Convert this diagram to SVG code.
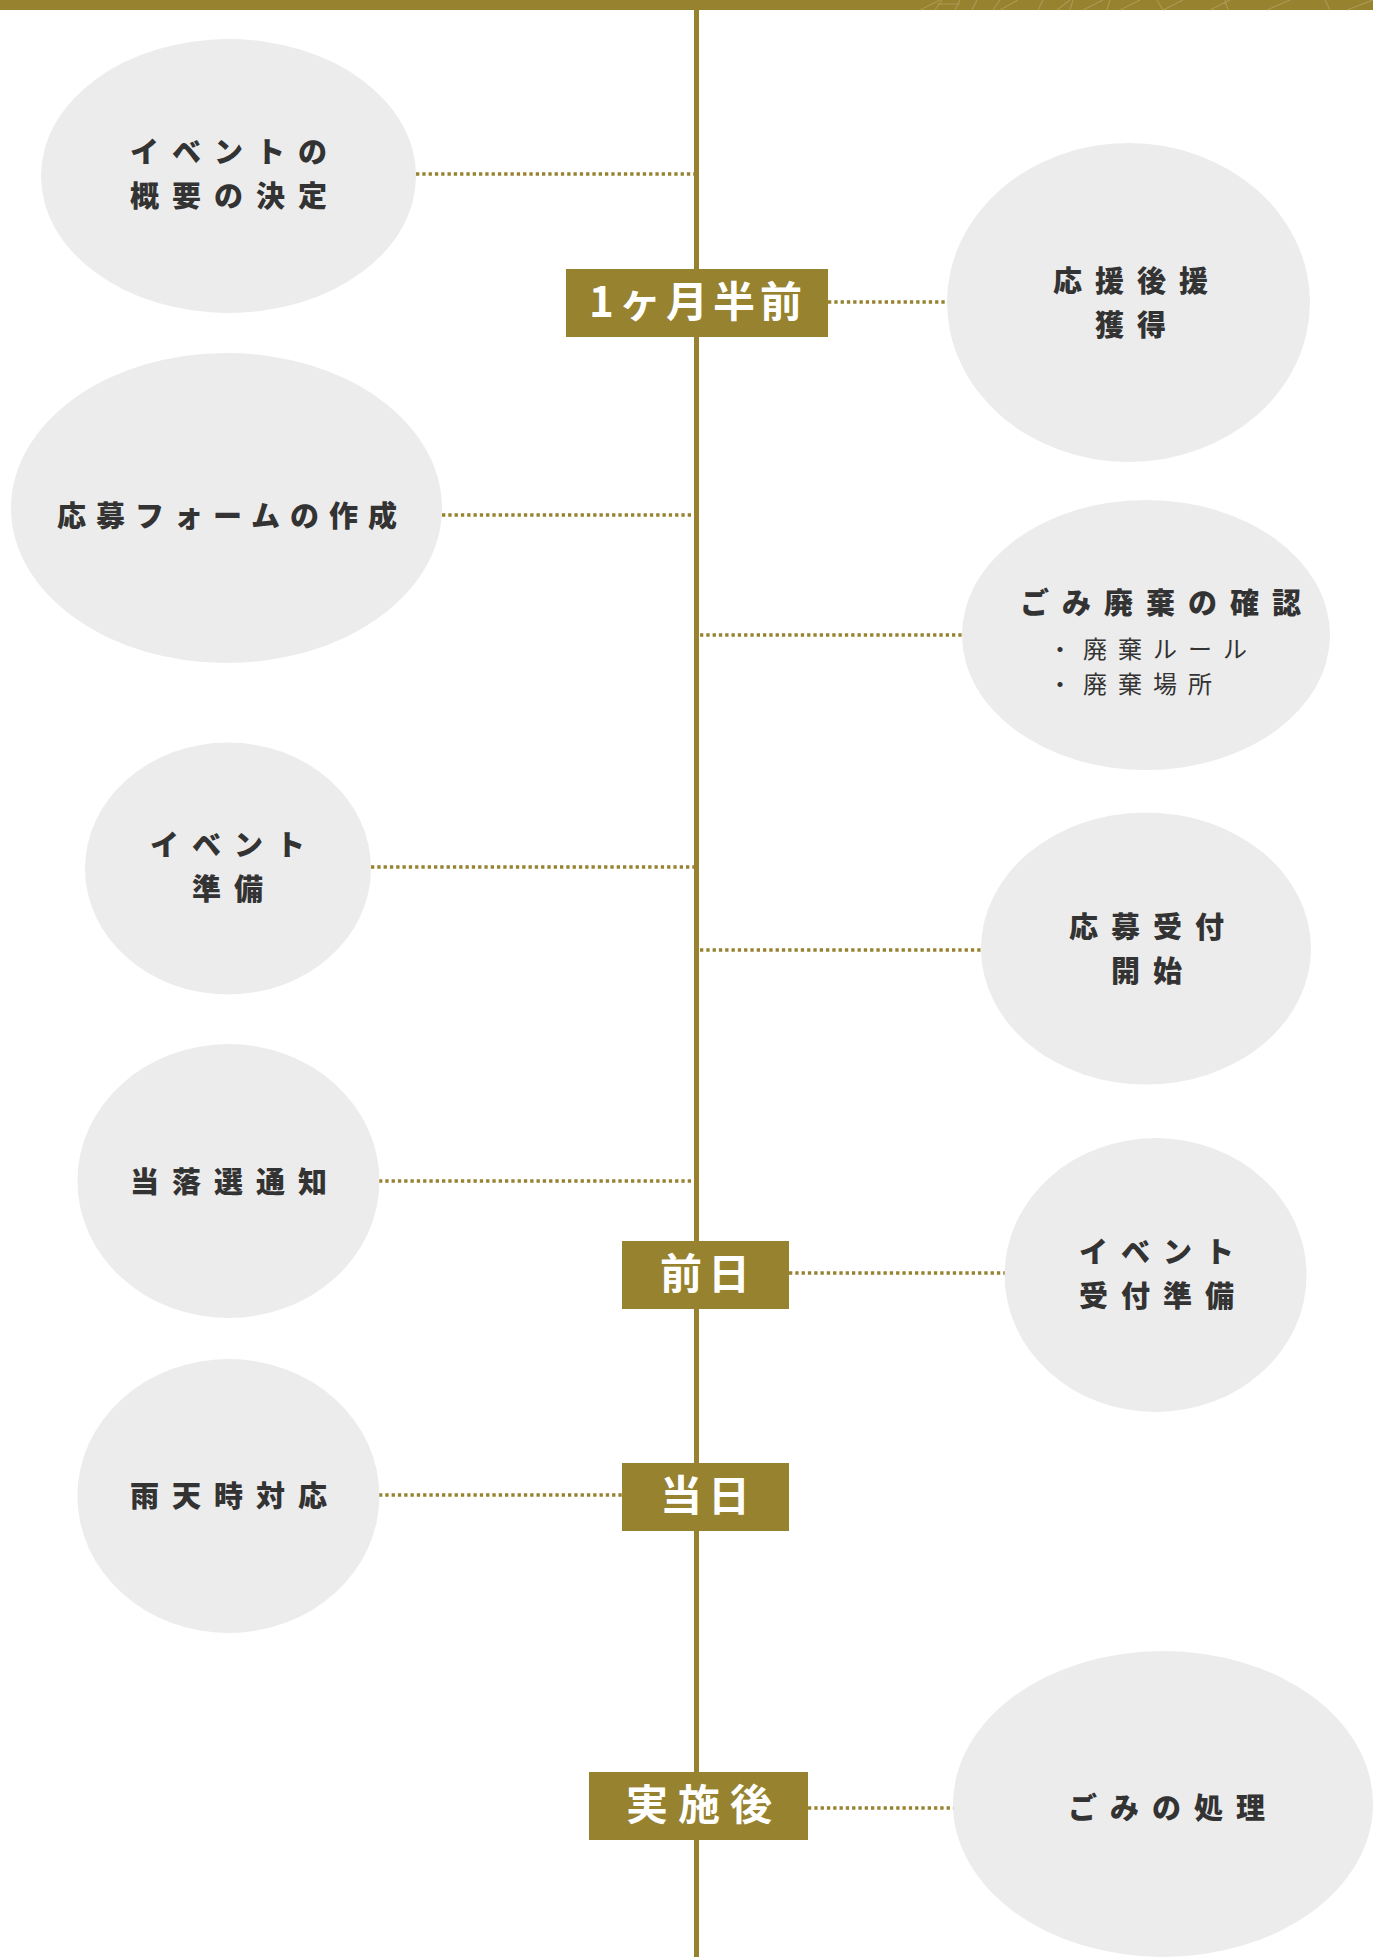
<svg xmlns="http://www.w3.org/2000/svg" width="1373" height="1957" viewBox="0 0 1373 1957">
<style>
.node{fill:#ececec}
.t{font-family:"Noto Sans CJK JP","Noto Sans",sans-serif;font-weight:900;font-size:29px;fill:#333;letter-spacing:13px;text-anchor:middle;dominant-baseline:central}
.t3{letter-spacing:10px}
.sub{font-family:"Noto Sans CJK JP","Noto Sans",sans-serif;font-weight:400;font-size:24px;fill:#333;letter-spacing:11px;dominant-baseline:central}
.badge{fill:#96822f}
.bt{font-family:"Noto Sans CJK JP","Noto Sans",sans-serif;font-weight:700;font-size:42px;fill:#fff;text-anchor:middle;dominant-baseline:central}
.dot{stroke:#96822f;stroke-width:3.5;stroke-dasharray:3.3 3;fill:none}
.pat{stroke:#b3a363;stroke-width:1.2;fill:none;opacity:0.7}
</style>
<rect x="0" y="0" width="1373" height="10" fill="#96822f"/>
<g id="bar-pattern">
<path class="pat" d="M920 10 L940 0 M935 10 L942 0 M937 4 L960 4 M955 10 L960 0 M972 10 L977 0 M993 10 L1000 0 M1000 10 L1018 0 M1038 10 L1043 0 M1057 10 L1070 0 M1070 10 L1073 0 M1083 10 L1103 0 M1107 10 L1110 0 M1120 10 L1140 0 M1157 0 L1163 10 M1163 10 L1183 0 M1210 10 L1230 0 M1225 0 L1228 10 M1267 10 L1290 0 M1325 0 L1330 10 M1347 10 L1373 0"/>
</g>
<g id="timeline">
<line x1="696.5" y1="10" x2="696.5" y2="1957" stroke="#96822f" stroke-width="5"/>
</g>
<g id="connectors">
<line class="dot" x1="416" y1="174" x2="694" y2="174"/>
<line class="dot" x1="828" y1="302" x2="947" y2="302"/>
<line class="dot" x1="442" y1="515" x2="694" y2="515"/>
<line class="dot" x1="700" y1="635" x2="963" y2="635"/>
<line class="dot" x1="371" y1="867" x2="694" y2="867"/>
<line class="dot" x1="700" y1="950" x2="981" y2="950"/>
<line class="dot" x1="379" y1="1181" x2="691" y2="1181"/>
<line class="dot" x1="789" y1="1273" x2="1005" y2="1273"/>
<line class="dot" x1="379" y1="1495" x2="622" y2="1495"/>
<line class="dot" x1="808" y1="1808" x2="954" y2="1808"/>
</g>
<g id="n1">
<ellipse class="node" cx="228.5" cy="176" rx="187.5" ry="137"/>
<text class="t" x="235" y="149.5">イベントの</text>
<text class="t" x="235" y="194">概要の決定</text>
</g>
<g id="b1">
<rect class="badge" x="566" y="269" width="262" height="68"/>
<text class="bt" x="698" y="298" style="letter-spacing:5px">1ヶ月半前</text>
</g>
<g id="n2">
<ellipse class="node" cx="1128.5" cy="302.5" rx="181.5" ry="159.5"/>
<text class="t" x="1137" y="278.5">応援後援</text>
<text class="t" x="1137" y="323">獲得</text>
</g>
<g id="n3">
<ellipse class="node" cx="226.5" cy="508" rx="215.5" ry="155"/>
<text class="t t3" x="232" y="514">応募フォームの作成</text>
</g>
<g id="n4">
<ellipse class="node" cx="1146" cy="635" rx="184" ry="135"/>
<text class="t" x="1167" y="600.5">ごみ廃棄の確認</text>
<text class="sub" x="1048" y="647">・廃棄ルール</text>
<text class="sub" x="1048" y="682">・廃棄場所</text>
</g>
<g id="n5">
<ellipse class="node" cx="228" cy="868.5" rx="143" ry="126"/>
<text class="t" x="234" y="843">イベント</text>
<text class="t" x="234" y="887">準備</text>
</g>
<g id="n6">
<ellipse class="node" cx="1146" cy="948.5" rx="165" ry="136"/>
<text class="t" x="1153" y="925">応募受付</text>
<text class="t" x="1153" y="969">開始</text>
</g>
<g id="n7">
<ellipse class="node" cx="228.4" cy="1181" rx="151" ry="137"/>
<text class="t" x="235" y="1180">当落選通知</text>
</g>
<g id="b2">
<rect class="badge" x="622" y="1241" width="167" height="68"/>
<text class="bt" x="708" y="1270" style="letter-spacing:6px">前日</text>
</g>
<g id="n9">
<ellipse class="node" cx="1155.6" cy="1275" rx="151" ry="137"/>
<text class="t" x="1163" y="1250">イベント</text>
<text class="t" x="1163" y="1294">受付準備</text>
</g>
<g id="n10">
<ellipse class="node" cx="228.4" cy="1496" rx="151" ry="137"/>
<text class="t" x="235" y="1494">雨天時対応</text>
</g>
<g id="b3">
<rect class="badge" x="622" y="1463" width="167" height="68"/>
<text class="bt" x="708" y="1492" style="letter-spacing:6px">当日</text>
</g>
<g id="b4">
<rect class="badge" x="589" y="1772" width="219" height="68"/>
<text class="bt" x="704" y="1801" style="letter-spacing:10px">実施後</text>
</g>
<g id="n11">
<ellipse class="node" cx="1163" cy="1804" rx="210" ry="153"/>
<text class="t" x="1173" y="1806">ごみの処理</text>
</g>
</svg>
